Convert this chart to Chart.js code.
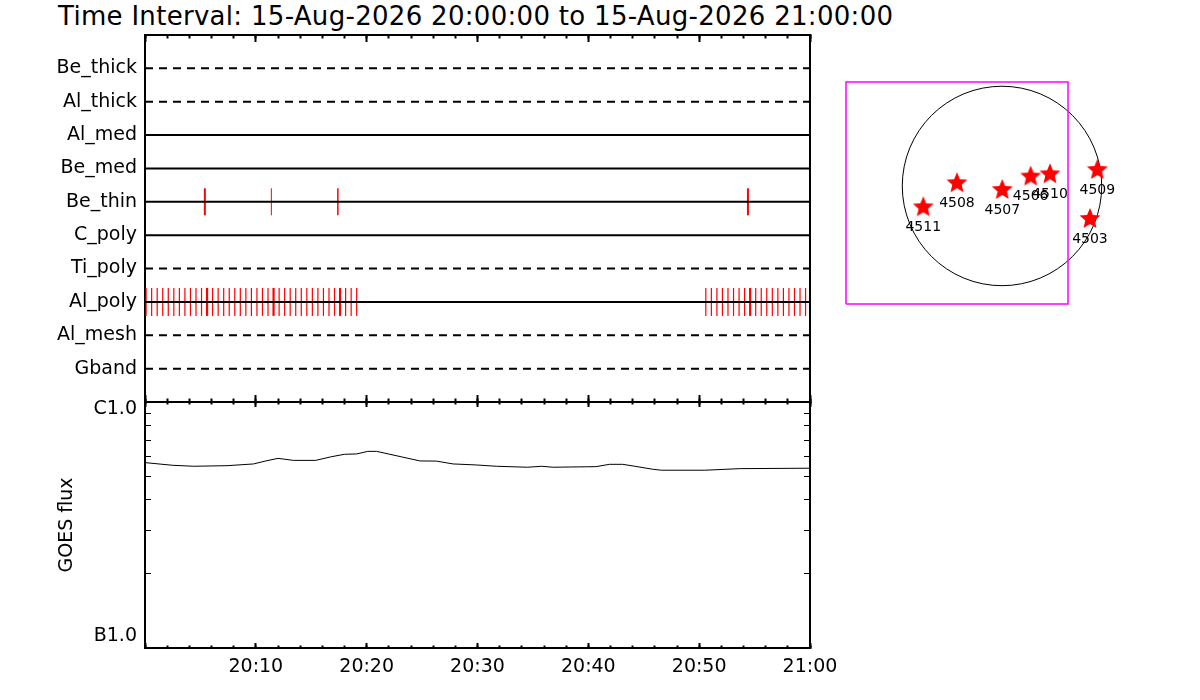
<!DOCTYPE html>
<html>
<head>
<meta charset="utf-8">
<title>XRT filter timeline</title>
<script src="https://cdn.jsdelivr.net/npm/chart.js@4.4.1/dist/chart.umd.min.js"></script>
<style>
  html, body { margin: 0; padding: 0; background: #fff; }
  #wrap { position: relative; width: 1200px; height: 700px; overflow: hidden; }
  #wrap canvas { position: absolute; left: 0; top: 0; }
  #title {
    position: absolute; left: 58px; top: 3px;
    font-family: 'DejaVu Sans ExtraLight', 'DejaVu Sans'; font-size: 26px; line-height: 26px;
    letter-spacing: 0.3px; color: #000; white-space: nowrap;
  }
</style>
</head>
<body>
<div id="wrap">
  <div id="title">Time Interval: 15-Aug-2026 20:00:00 to 15-Aug-2026 21:00:00</div>
  <canvas id="filterChart" width="1200" height="700"></canvas>
  <canvas id="goesChart" width="1200" height="700"></canvas>
  <canvas id="mapChart" width="1200" height="700"></canvas>
</div>
<script>
// filter wheel rows, top to bottom
const rowNames = ['Be_thick', 'Al_thick', 'Al_med', 'Be_med', 'Be_thin', 'C_poly', 'Ti_poly', 'Al_poly', 'Al_mesh', 'Gband'];

// exposure times, minutes after 20:00
const beThinTimes = [5.4, 11.4, 17.4, 54.4];
const alPolyTimes = [
  0.1, 0.6, 1.1, 1.6, 2.1, 2.6, 3.1, 3.6, 4.1, 4.6, 5.1, 5.6, 6.1, 6.6, 7.1, 7.6, 8.1, 8.6, 9.1, 9.6,
  10.1, 10.6, 11.1, 11.6, 12.1, 12.6, 13.1, 13.6, 14.1, 14.6, 15.1, 15.6, 16.1, 16.6, 17.1, 17.6, 18.1, 18.6, 19.1,
  50.6, 51.1, 51.6, 52.1, 52.6, 53.1, 53.6, 54.1, 54.6, 55.1, 55.6, 56.1, 56.6, 57.1, 57.6, 58.1, 58.6, 59.1, 59.6
];

// GOES soft x-ray flux (W/m^2)
const goesMinutes = [0, 2.5, 4.4, 7.4, 9.8, 10.9, 12.0, 13.4, 15.4, 16.8, 18.0, 19.1, 20.1, 20.9, 23.1, 24.8,
  26.3, 27.8, 29.8, 31.7, 34.5, 35.8, 36.8, 40.7, 41.9, 43.1, 44.2, 45.8, 46.6, 50.5, 53.7, 60];
const goesFlux = [5.67e-7, 5.53e-7, 5.48e-7, 5.51e-7, 5.60e-7, 5.76e-7, 5.90e-7, 5.79e-7, 5.79e-7, 5.99e-7,
  6.13e-7, 6.15e-7, 6.30e-7, 6.30e-7, 5.99e-7, 5.76e-7, 5.75e-7, 5.60e-7, 5.55e-7, 5.48e-7, 5.43e-7, 5.48e-7,
  5.43e-7, 5.46e-7, 5.58e-7, 5.58e-7, 5.48e-7, 5.33e-7, 5.28e-7, 5.28e-7, 5.36e-7, 5.38e-7];
const fluxTickValues = [1e-7, 1e-6];
const fluxTickNames = ['B1.0', 'C1.0'];
const timeLabels = ['', '20:10', '20:20', '20:30', '20:40', '20:50', '21:00'];

// active regions, heliocentric arcsec
const arNames = ['4511', '4508', '4507', '4506', '4510', '4509', '4503'];
const arX = [-750, -429, 3, 273, 457, 908, 838];
const arY = [-203, 26, -38, 89, 111, 152, -314];
const sunRadius = 950;
const fovX = [-1486, 629];
const fovY = [-1124, 990];

const fontFamily = "'DejaVu Sans ExtraLight', 'DejaVu Sans'";
Chart.defaults.font.family = fontFamily;
Chart.defaults.font.size = 19;
Chart.defaults.color = '#000';

const dashedRows = ['Be_thick', 'Al_thick', 'Ti_poly', 'Al_mesh', 'Gband'];

function fixSize(size) {
  return function (scale) {
    if (scale.isHorizontal()) scale.height = size; else scale.width = size;
    scale.paddingLeft = scale.paddingRight = scale.paddingTop = scale.paddingBottom = 0;
  };
}

// axis used only for its tick marks (negative length -> ticks point inward)
function tickAxis(position, min, max, step, len, border, extra) {
  return Object.assign({
    type: 'linear',
    position: position,
    min: min,
    max: max,
    ticks: { stepSize: step, display: false },
    grid: { drawOnChartArea: false, tickLength: -len, tickColor: '#000', tickWidth: 2 },
    border: { display: border, color: '#000', width: 2 },
    afterFit: fixSize(0)
  }, extra || {});
}

// keep only 1..10 x decade ticks on the log axes
function decadeTicks(scale) {
  scale.ticks = scale.ticks.filter(t => {
    const s = t.value / 1e-7;
    return Math.abs(s - Math.round(s)) < 1e-6;
  });
}

const noInteraction = {
  responsive: false,
  devicePixelRatio: 1,
  animation: false,
  events: [],
  plugins: { legend: { display: false }, tooltip: { enabled: false } }
};

// ---------- filter timeline ----------
const rowOf = (name) => rowNames.indexOf(name) + 1;

const rowDatasets = rowNames.map((name, i) => ({
  data: [{ x: 0, y: i + 1 }, { x: 60, y: i + 1 }],
  showLine: true,
  borderColor: '#000',
  borderWidth: 2,
  borderDash: dashedRows.includes(name) ? [8, 6] : [],
  pointRadius: 0
}));

new Chart(document.getElementById('filterChart'), {
  type: 'scatter',
  data: {
    datasets: rowDatasets.concat([
      {
        data: beThinTimes.map(t => ({ x: t, y: rowOf('Be_thin') })),
        pointStyle: 'line',
        rotation: 90,
        pointRadius: 13.5,
        pointBorderColor: '#ff0000',
        pointBorderWidth: [2, 1, 1.5, 2]
      },
      {
        data: alPolyTimes.map(t => ({ x: t, y: rowOf('Al_poly') })),
        pointStyle: 'line',
        rotation: 90,
        pointRadius: 14,
        pointBorderColor: '#ff0000',
        pointBorderWidth: alPolyTimes.map(t => [5.6, 11.6, 17.6, 54.6].includes(t) ? 2.2 : 1.2)
      }
    ])
  },
  options: Object.assign({}, noInteraction, {
    layout: { padding: { left: 0, top: 35, right: 390, bottom: 298 } },
    scales: {
      x: tickAxis('bottom', 0, 60, 10, 7, true),
      xMinor: tickAxis('bottom', 0, 60, 2, 3.5, false),
      xTop: tickAxis('top', 0, 60, 10, 7, true),
      xTopMinor: tickAxis('top', 0, 60, 2, 3.5, false),
      y: {
        type: 'linear',
        position: 'left',
        min: 0,
        max: 11,
        reverse: true,
        ticks: {
          stepSize: 1,
          autoSkip: false,
          padding: 8,
          callback: (v) => rowNames[v - 1] || ''
        },
        grid: { drawOnChartArea: false, drawTicks: false },
        border: { color: '#000', width: 2 },
        afterFit: fixSize(145)
      },
      yRight: {
        type: 'linear',
        position: 'right',
        min: 0,
        max: 11,
        ticks: { display: false },
        grid: { display: false },
        border: { color: '#000', width: 2 },
        afterFit: fixSize(0)
      }
    }
  })
});

// ---------- GOES flux ----------
function fluxName(v) {
  for (let i = 0; i < fluxTickValues.length; i++) {
    if (Math.abs(v / fluxTickValues[i] - 1) < 1e-6) return fluxTickNames[i];
  }
  return null;
}

new Chart(document.getElementById('goesChart'), {
  type: 'scatter',
  data: {
    datasets: [{
      data: goesMinutes.map((m, i) => ({ x: m, y: goesFlux[i] })),
      showLine: true,
      borderColor: '#000',
      borderWidth: 1,
      pointRadius: 0,
      tension: 0
    }]
  },
  options: Object.assign({}, noInteraction, {
    layout: { padding: { left: 56, top: 402, right: 390, bottom: 12 } },
    scales: {
      x: tickAxis('bottom', 0, 60, 10, 5, true, {
        weight: 1,
        ticks: {
          stepSize: 10,
          autoSkip: false,
          maxRotation: 0,
          padding: 13,
          callback: (v) => timeLabels[Math.round(v / 10)]
        },
        afterFit: fixSize(40)
      }),
      xMinor: tickAxis('bottom', 0, 60, 2, 2.5, false),
      xTop: tickAxis('top', 0, 60, 10, 5, true),
      xTopMinor: tickAxis('top', 0, 60, 2, 2.5, false),
      y: {
        type: 'logarithmic',
        position: 'left',
        min: 1e-7,
        max: 1e-6,
        afterBuildTicks: decadeTicks,
        ticks: {
          autoSkip: false,
          padding: 14,
          labelOffset: -2,
          font: { lineHeight: 1.0 },
          callback: (v) => {
            const name = fluxName(v);
            if (name === 'C1.0') return ['', name];
            if (name === 'B1.0') return [name, ''];
            return '';
          }
        },
        grid: { drawOnChartArea: false, tickLength: -6, tickColor: '#000', tickWidth: 1 },
        border: { color: '#000', width: 2 },
        title: { display: true, text: 'GOES flux', padding: 0, font: { size: 19 } },
        afterFit: fixSize(89)
      },
      yRight: {
        type: 'logarithmic',
        position: 'right',
        min: 1e-7,
        max: 1e-6,
        afterBuildTicks: decadeTicks,
        ticks: { display: false, autoSkip: false },
        grid: { drawOnChartArea: false, tickLength: -6, tickColor: '#000', tickWidth: 1 },
        border: { color: '#000', width: 2 },
        afterFit: fixSize(0)
      }
    }
  })
});

// ---------- solar disk map ----------
function makeStar(r) {
  const c = document.createElement('canvas');
  c.width = c.height = Math.ceil(r * 2) + 2;
  const g = c.getContext('2d');
  g.translate(c.width / 2, c.height / 2);
  g.beginPath();
  for (let i = 0; i < 10; i++) {
    const rad = i % 2 ? r * 0.45 : r;
    const a = -Math.PI / 2 + i * Math.PI / 5;
    g.lineTo(rad * Math.cos(a), rad * Math.sin(a));
  }
  g.closePath();
  g.fillStyle = '#ff0000';
  g.fill();
  return c;
}

const sunDisk = {
  id: 'sunDisk',
  beforeDatasetsDraw(chart) {
    const { ctx, scales: { x, y } } = chart;
    const cx = x.getPixelForValue(0);
    const cy = y.getPixelForValue(0);
    const r = x.getPixelForValue(sunRadius) - cx;
    ctx.save();
    ctx.beginPath();
    ctx.arc(cx, cy, r, 0, Math.PI * 2);
    ctx.strokeStyle = '#000';
    ctx.lineWidth = 1;
    ctx.stroke();
    ctx.restore();
  }
};

const arLabels = {
  id: 'arLabels',
  afterDatasetsDraw(chart) {
    const { ctx } = chart;
    const meta = chart.getDatasetMeta(1);
    ctx.save();
    ctx.font = '14px ' + fontFamily;
    ctx.fillStyle = '#000';
    ctx.textAlign = 'center';
    ctx.textBaseline = 'middle';
    meta.data.forEach((pt, i) => ctx.fillText(arNames[i], pt.x, pt.y + 20));
    ctx.restore();
  }
};

// plot area reaches past the field of view so limb regions are drawn too
const mapXMax = 1086;

new Chart(document.getElementById('mapChart'), {
  type: 'scatter',
  data: {
    datasets: [
      {
        // field of view
        data: [
          { x: fovX[0], y: fovY[0] }, { x: fovX[0], y: fovY[1] }, { x: fovX[1], y: fovY[1] },
          { x: fovX[1], y: fovY[0] }, { x: fovX[0], y: fovY[0] }
        ],
        showLine: true,
        borderColor: '#ff00ff',
        borderWidth: 1.5,
        pointRadius: 0,
        clip: false
      },
      {
        data: arX.map((x, i) => ({ x: x, y: arY[i] })),
        pointStyle: makeStar(11),
        pointRadius: 11,
        clip: false
      }
    ]
  },
  options: Object.assign({}, noInteraction, {
    layout: { padding: { left: 846, top: 82, right: 84, bottom: 396 } },
    scales: {
      x: { type: 'linear', min: fovX[0], max: mapXMax, display: false },
      y: { type: 'linear', min: fovY[0], max: fovY[1], display: false }
    }
  }),
  plugins: [sunDisk, arLabels]
});
</script>
</body>
</html>
